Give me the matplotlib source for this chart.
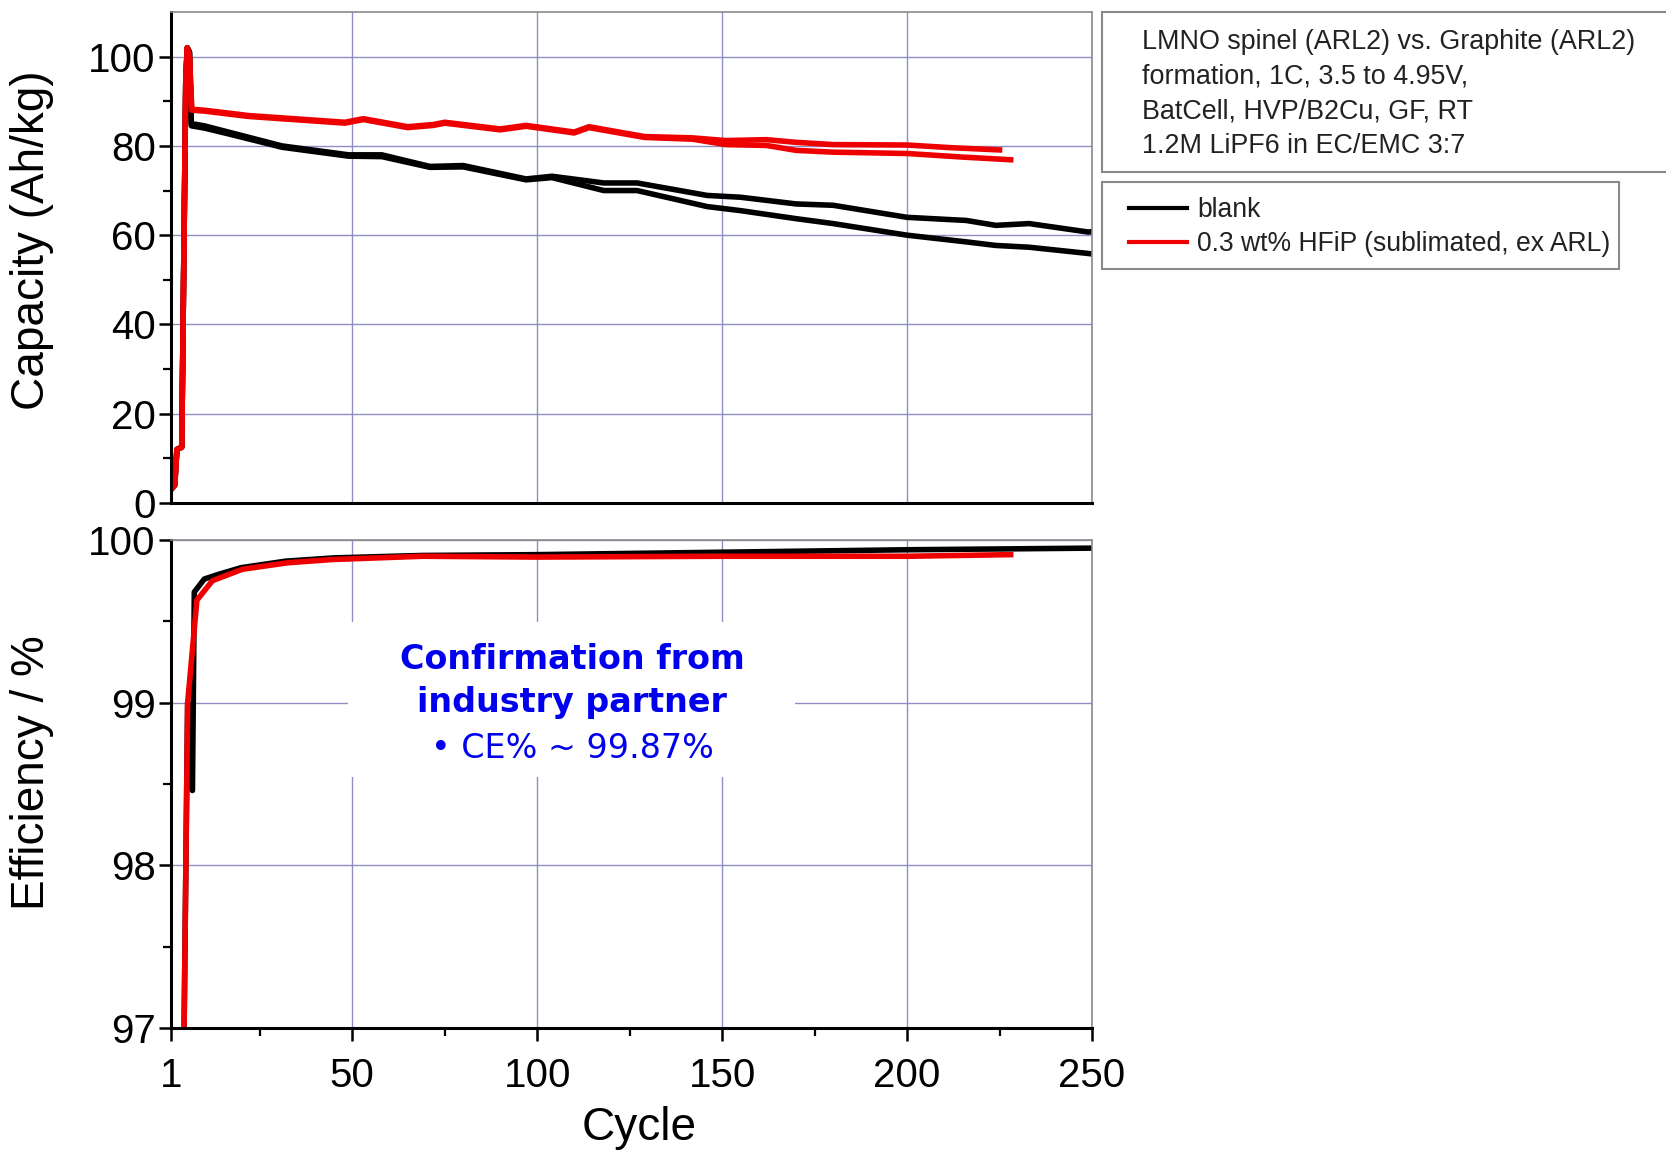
import matplotlib.pyplot as plt
from matplotlib.patches import Rectangle
from matplotlib.lines import Line2D

plt.rcParams['font.family'] = ['Liberation Sans', 'DejaVu Sans']

# capacity (Ah/kg) vs cycle, two cells per electrolyte
blank_a_cyc = [1, 2, 2.6, 3.9, 5.0, 5.4, 6.0, 6.5, 10, 17, 31, 49, 58, 71, 80, 97, 104,
               118, 127, 146, 155, 170, 180, 200, 216, 224, 233, 249, 250]
blank_a_cap = [3, 4, 12, 12.5, 95, 102, 101, 85, 84.5, 83, 80, 78, 78, 75.4, 75.6, 72.6, 73.2,
               71.7, 71.7, 68.9, 68.5, 67, 66.7, 64, 63.3, 62.2, 62.6, 60.7, 60.8]
blank_b_cyc = [1, 2, 2.6, 3.9, 5.0, 5.4, 6.0, 6.5, 10, 17, 31, 49, 58, 71, 80, 97, 104,
               118, 127, 146, 155, 170, 180, 200, 216, 224, 233, 249, 250]
blank_b_cap = [3, 4, 12, 12.5, 95, 102, 101, 84.5, 84.0, 82.6, 79.7, 77.7, 77.6, 75.2, 75.3, 72.4, 72.9,
               70.0, 70.0, 66.4, 65.5, 63.7, 62.6, 60.0, 58.5, 57.7, 57.3, 55.9, 55.8]

hfip_a_cyc = [1, 2, 2.6, 3.9, 5.0, 5.4, 6.0, 6.6, 10, 22, 48, 53, 65, 72, 75, 90, 97,
              110, 114, 129, 142, 151, 162, 170, 180, 200, 212, 225]
hfip_a_cap = [3, 4, 12, 12.5, 95, 102, 100, 88.2, 88, 86.8, 85.3, 86.1, 84.3, 84.8, 85.3, 83.8, 84.6,
              83.1, 84.3, 82.1, 81.8, 81.2, 81.4, 80.8, 80.3, 80.2, 79.6, 79.1]
hfip_b_cyc = [1, 2, 2.6, 3.9, 5.0, 5.4, 6.0, 6.6, 10, 22, 48, 53, 65, 72, 75, 90, 97,
              110, 114, 129, 142, 151, 162, 170, 180, 200, 215, 228]
hfip_b_cap = [3, 4, 12, 12.5, 95, 102, 100, 88.0, 87.8, 86.6, 85.1, 85.9, 84.1, 84.6, 85.1, 83.6, 84.4,
              82.9, 84.1, 81.9, 81.5, 80.3, 80.1, 79.0, 78.6, 78.3, 77.5, 76.9]

# coulombic efficiency (%)
blank_ce_cyc = [4.3, 5.5, 6.8, 7.3, 10, 14, 20, 32, 45, 69, 100, 150, 200, 250]
blank_ce = [96.5, 99.0, 98.46, 99.68, 99.76, 99.79, 99.83, 99.87, 99.89, 99.905, 99.91, 99.925, 99.94, 99.95]
hfip_ce_cyc = [4.3, 5.5, 8, 12.2, 20.3, 32.5, 44.6, 69, 100, 150, 200, 228]
hfip_ce = [96.5, 99.0, 99.63, 99.75, 99.82, 99.86, 99.88, 99.9, 99.895, 99.9, 99.9, 99.91]

x_major = [1, 50, 100, 150, 200, 250]
x_minor = [25, 75, 125, 175, 225]

info_lines = ["LMNO spinel (ARL2) vs. Graphite (ARL2)",
              "formation, 1C, 3.5 to 4.95V,",
              "BatCell, HVP/B2Cu, GF, RT",
              "1.2M LiPF6 in EC/EMC 3:7"]
legend_labels = ["blank", "0.3 wt% HFiP (sublimated, ex ARL)"]

W, H = 1666, 1155
fig = plt.figure(figsize=(W / 100, H / 100), dpi=100)


def fx(px):
    return px / W


def fy(py):
    return 1 - py / H


grid_col = '#8f8fc4'
ax1 = fig.add_axes([fx(171), fy(503), fx(1092 - 171), (503 - 12) / H])
ax2 = fig.add_axes([fx(171), fy(1028), fx(1092 - 171), (1028 - 540) / H])

for ax in (ax1, ax2):
    for s in ('left', 'bottom'):
        ax.spines[s].set_linewidth(2.2)
        ax.spines[s].set_color('black')
    for s in ('top', 'right'):
        ax.spines[s].set_linewidth(1.2)
        ax.spines[s].set_color('#8a8a8a')
    ax.set_xlim(1, 250)
    ax.set_xticks(x_major)
    ax.set_xticks(x_minor, minor=True)
    ax.grid(True, which='major', color=grid_col, lw=1.0)
    ax.set_axisbelow(True)
    ax.tick_params(axis='both', which='major', direction='out', length=9, width=1.8,
                   labelsize=29, pad=2)
    ax.tick_params(axis='both', which='minor', direction='out', length=6, width=1.6)

lw = 4.0
ax1.plot(blank_a_cyc, blank_a_cap, color='black', lw=lw)
ax1.plot(blank_b_cyc, blank_b_cap, color='black', lw=lw)
ax1.plot(hfip_a_cyc, hfip_a_cap, color='#ee0000', lw=lw)
ax1.plot(hfip_b_cyc, hfip_b_cap, color='#ee0000', lw=lw)
ax1.set_ylim(0, 110)
ax1.set_yticks([0, 20, 40, 60, 80, 100])
ax1.set_yticks([10, 30, 50, 70, 90], minor=True)
ax1.tick_params(axis='x', which='both', bottom=False, labelbottom=False)

ax2.plot(blank_ce_cyc, blank_ce, color='black', lw=lw)
ax2.plot(hfip_ce_cyc, hfip_ce, color='#ee0000', lw=lw)
ax2.set_ylim(97, 100)
ax2.set_yticks([97, 98, 99, 100])
ax2.set_yticks([97.5, 98.5, 99.5], minor=True)
ax2.tick_params(axis='x', which='major', pad=12)

fig.text(fx(32), fy(240), "Capacity (Ah/kg)", rotation=90, fontsize=33,
         ha='center', va='center')
fig.text(fx(32), fy(773), "Efficiency / %", rotation=90, fontsize=33,
         ha='center', va='center')
fig.text(fx(639), fy(1128), "Cycle", fontsize=33, ha='center', va='center')

# white callout box in the efficiency panel
fig.patches.append(Rectangle((fx(348), fy(777)), fx(795 - 348), (777 - 622) / H,
                             transform=fig.transFigure, facecolor='white',
                             edgecolor='none', zorder=5))
fig.text(fx(572), fy(681), "Confirmation from\nindustry partner", fontsize=24,
         family='DejaVu Sans', weight='bold', color='#0000ee', ha='center',
         va='center', linespacing=1.4, zorder=6)
fig.text(fx(572), fy(749), "\u2022 CE% ~ 99.87%", fontsize=24, family='DejaVu Sans',
         color='#0000ee', ha='center', va='center', zorder=6)

# info box, running off the right edge
fig.patches.append(Rectangle((fx(1102), fy(172)), fx(W + 20 - 1102), (172 - 12) / H,
                             transform=fig.transFigure, facecolor='white',
                             edgecolor='#8a8a8a', lw=1.5))
fig.text(fx(1142), fy(94), "\n".join(info_lines), fontsize=19.4, color='#222222',
         ha='left', va='center', linespacing=1.42)

# legend box drawn by hand so the inner padding can differ by side
fig.patches.append(Rectangle((fx(1102), fy(269)), fx(1619 - 1102), (269 - 182) / H,
                             transform=fig.transFigure, facecolor='white',
                             edgecolor='#8a8a8a', lw=1.5))
handles = [Line2D([], [], color='black', lw=3),
           Line2D([], [], color='#ee0000', lw=3)]
leg = fig.legend(handles, legend_labels, loc='center left',
                 bbox_to_anchor=(fx(1129), fy(227)), borderaxespad=0, borderpad=0,
                 fontsize=19.1, frameon=False, handlelength=2.2,
                 handletextpad=0.37, labelspacing=0.3)
for t in leg.get_texts():
    t.set_color('#222222')

fig.savefig('out.png', dpi=100)
